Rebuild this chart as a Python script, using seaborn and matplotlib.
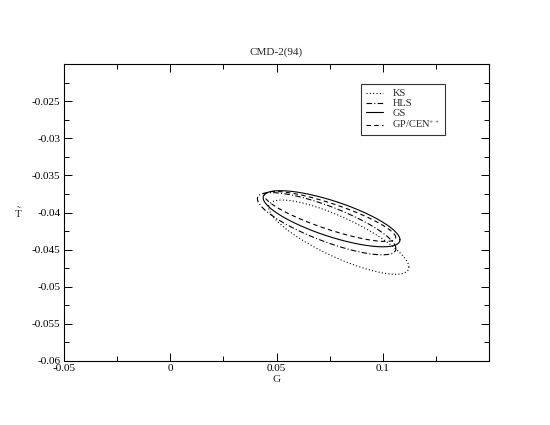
import matplotlib
matplotlib.use('Agg')
import matplotlib.pyplot as plt
import numpy as np
import pandas as pd
import seaborn as sns
from matplotlib.ticker import AutoMinorLocator, FixedLocator, FuncFormatter

# fit ellipses: centre, half-ranges and correlation
models = ['KS', 'HLS', 'GS', 'GP/CEN$^{++}$']
center_g = [0.0793, 0.0736, 0.0759, 0.0752]
center_t = [-0.04332, -0.04151, -0.04084, -0.04053]
half_g = [0.0330, 0.0326, 0.0322, 0.0309]
half_t = [0.00500, 0.00419, 0.00378, 0.00337]
corr = [-0.81, -0.80, -0.75, -0.84]

x_ticks = [-0.05, 0, 0.05, 0.1]
y_ticks = [-0.06, -0.055, -0.05, -0.045, -0.04, -0.035, -0.03, -0.025]

line_styles = {
    'KS': (0, (1, 2)),
    'HLS': (0, (5, 2, 1, 2)),
    'GS': '-',
    'GP/CEN$^{++}$': (0, (4, 3)),
}


def ellipse_frame(name, cg, ct, ag, bt, rho, n=240):
    t = np.linspace(0, 2 * np.pi, n)
    g = cg + ag * np.cos(t)
    tt = ct + bt * (rho * np.cos(t) + np.sqrt(1 - rho ** 2) * np.sin(t))
    return pd.DataFrame({'G': g, 'T': tt, 'model': name, 'order': np.arange(n)})


def main():
    sns.set_style('ticks')
    plt.rcParams['font.family'] = ['Liberation Serif', 'DejaVu Serif']
    plt.rcParams['mathtext.fontset'] = 'custom'
    plt.rcParams['mathtext.rm'] = 'Liberation Serif'
    plt.rcParams['mathtext.it'] = 'Liberation Serif:italic'
    plt.rcParams['axes.unicode_minus'] = False

    fig = plt.figure(figsize=(5.5, 4.25), dpi=100)
    ax = fig.add_axes([0.1164, 0.1506, 0.7727, 0.6988])

    for name, cg, ct, ag, bt, rho in zip(models, center_g, center_t, half_g, half_t, corr):
        df = ellipse_frame(name, cg, ct, ag, bt, rho)
        sns.lineplot(data=df, x='G', y='T', sort=False, estimator=None, ax=ax,
                     color='black', linewidth=0.8, linestyle=line_styles[name], label=name)

    ax.set_xlim(-0.05, 0.15)
    ax.set_ylim(-0.06, -0.02)
    ax.xaxis.set_major_locator(FixedLocator(x_ticks))
    ax.yaxis.set_major_locator(FixedLocator(y_ticks))
    ax.xaxis.set_minor_locator(FixedLocator([-0.025, 0.025, 0.075, 0.125]))
    ax.yaxis.set_minor_locator(AutoMinorLocator(2))
    fmt = FuncFormatter(lambda v, p: '{:g}'.format(round(v, 4)))
    ax.xaxis.set_major_formatter(fmt)
    ax.yaxis.set_major_formatter(fmt)

    ax.tick_params(which='both', direction='in', top=True, right=True,
                   labelsize=8, width=0.7, colors='black', pad=2.5)
    ax.tick_params(which='major', length=6)
    ax.tick_params(which='minor', length=3.5)
    for sp in ax.spines.values():
        sp.set_linewidth(0.8)
        sp.set_color('black')

    ax.set_title('CMD-2(94)', fontsize=8, pad=7)
    ax.set_xlabel('G', fontsize=8, labelpad=1)
    ax.set_ylabel(r'$\tilde{\mathrm{T}}$', fontsize=8, rotation=0, labelpad=10, va='center')

    leg = ax.legend(loc='upper left', bbox_to_anchor=(0.699, 0.933), borderaxespad=0,
                    fontsize=7.5, frameon=True, fancybox=False, edgecolor='black',
                    handlelength=1.6, handletextpad=0.9, labelspacing=0.05, borderpad=0.5)
    leg.get_frame().set_linewidth(0.8)

    fig.savefig('out.png', dpi=100, facecolor='white')
    plt.close(fig)


if __name__ == '__main__':
    main()
